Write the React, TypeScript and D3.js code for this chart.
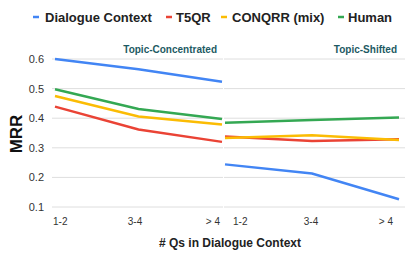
import React from "react";
import * as d3 from "d3";

const categories = ["1-2", "3-4", "> 4"];
const panels = ["Topic-Concentrated", "Topic-Shifted"];
const seriesNames = ["Dialogue Context", "T5QR", "CONQRR (mix)", "Human"];
const colors = ["#4285F4", "#EA4335", "#FBBC04", "#34A853"];

// values per series: [left panel..., right panel...]
const dialogueContext = [[0.6, 0.565, 0.523], [0.244, 0.213, 0.126]];
const t5qr = [[0.439, 0.362, 0.32], [0.338, 0.323, 0.329]];
const conqrr = [[0.475, 0.406, 0.379], [0.333, 0.342, 0.326]];
const human = [[0.498, 0.431, 0.397], [0.385, 0.394, 0.402]];
const seriesValues = [dialogueContext, t5qr, conqrr, human];
const yTicks = [0.1, 0.2, 0.3, 0.4, 0.5, 0.6];

export default function App() {
  const W = 407, H = 255;
  const y = d3.scaleLinear().domain([0.1, 0.6]).range([207, 59]);
  const panelX = [
    d3.scalePoint<string>().domain(categories).range([55, 222]),
    d3.scalePoint<string>().domain(categories).range([225, 399]),
  ];
  const gridRanges = [[52, 223], [224, 405]];
  const labelX = [[53, 135, 220], [233, 311, 393]];
  const anchors = ["start", "middle", "end"];
  const line = (p: number) =>
    d3.line<number>().x((_, i) => panelX[p](categories[i])!).y((v) => y(v));
  const legendItems = [
    { dash: 33, text: 45 },
    { dash: 166, text: 176 },
    { dash: 221, text: 232 },
    { dash: 338, text: 348 },
  ];
  const font = "Arial, 'Liberation Sans', sans-serif";
  return (
    <svg width={W} height={H} style={{ position: "absolute", left: 0, top: 0 }} fontFamily={font}>
      <rect width={W} height={H} fill="#fff" />
      {legendItems.map((l, i) => (
        <g key={i}>
          <line x1={l.dash} x2={l.dash + 6} y1={17} y2={17} stroke={colors[i]} strokeWidth={2.5} />
          <text x={l.text} y={21.5} fontSize={13} fontWeight="bold" fill="#222">{seriesNames[i]}</text>
        </g>
      ))}
      {gridRanges.map((r, p) =>
        yTicks.map((t) => (
          <line key={p + "-" + t} x1={r[0]} x2={r[1]} y1={y(t)} y2={y(t)} stroke="#dedede" strokeWidth={1} />
        ))
      )}
      {yTicks.map((t) => (
        <text key={t} x={44} y={y(t) + 4} fontSize={11} textAnchor="end" fill="#333">{t.toFixed(1)}</text>
      ))}
      <text x={217} y={53} fontSize={10} fontWeight="bold" fill="#1d5a63" textAnchor="end">{panels[0]}</text>
      <text x={397} y={53} fontSize={10} fontWeight="bold" fill="#1d5a63" textAnchor="end">{panels[1]}</text>
      {[0, 1].map((p) =>
        seriesValues.map((s, i) => (
          <path key={p + "-" + i} d={line(p)(s[p]) || ""} fill="none" stroke={colors[i]} strokeWidth={2.5} />
        ))
      )}
      {[0, 1].map((p) =>
        categories.map((c, i) => (
          <text key={p + c} x={labelX[p][i]} y={225} fontSize={10} textAnchor={anchors[i] as any} fill="#333">{c}</text>
        ))
      )}
      <text transform={`translate(22,134) rotate(-90)`} textAnchor="middle" fontSize={17} fontWeight="bold" fill="#111">MRR</text>
      <text x={230} y={247} textAnchor="middle" fontSize={12} fontWeight="bold" fill="#222"># Qs in Dialogue Context</text>
    </svg>
  );
}
